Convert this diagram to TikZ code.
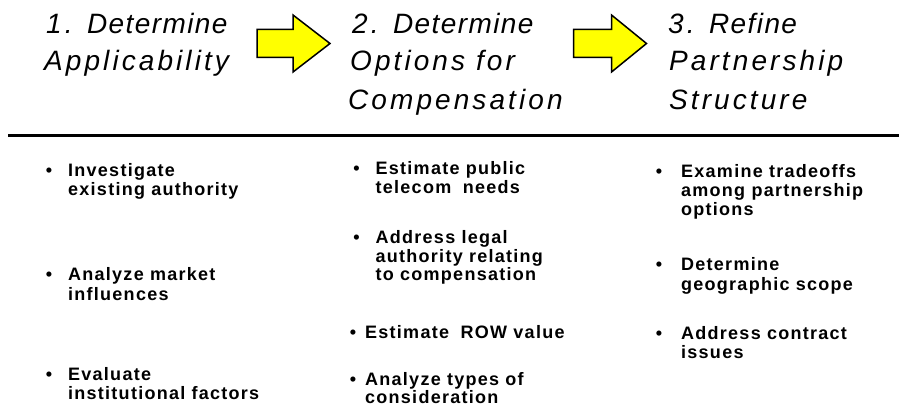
\documentclass[tikz,border=0pt]{standalone}
\usepackage{fontspec}
\setmainfont{Liberation Sans}
\newfontfamily\hdfont[LetterSpace=11]{Liberation Sans}
\newfontfamily\bdfont[LetterSpace=7]{Liberation Sans}
\newcommand\tightls[1]{{\addfontfeature{LetterSpace=5}#1}}
\definecolor{arrowyellow}{HTML}{FFFF00}
\tikzset{
  hd/.style={font=\hdfont\itshape\fontsize{28}{38}\selectfont, anchor=base west, inner sep=0pt},
  bt/.style={font=\bdfont\bfseries\fontsize{18}{19}\selectfont, anchor=base west, inner sep=0pt},
  bu/.style={font=\bfseries\fontsize{18}{19}\selectfont, anchor=base, inner sep=0pt},
  blockarrow/.style={draw=black, line width=1.5pt, fill=arrowyellow, line join=miter},
  rule/.style={draw=black, line width=3pt}
}
\begin{document}
\begin{tikzpicture}[x=1pt, y=-1pt]
\useasboundingbox (0,0) rectangle (899,409);
% headings
\node[hd] (h1a) at (46,33.3) {1. \tightls{Determine}};
\node[hd] (h1b) at (44,71) {Applicability};
\node[hd] (h2a) at (352,33.3) {2. \tightls{Determine}};
\node[hd] (h2b) at (350,71) {Options for};
\node[hd] (h2c) at (348,109.5) {Compensation};
\node[hd] (h3a) at (668,33.3) {3. \tightls{Refine}};
\node[hd] (h3b) at (669,71) {Partnership};
\node[hd] (h3c) at (669,109.5) {Structure};
% block arrows
\draw[blockarrow] (257,29.5) -- (293,29.5) -- (293,15) -- (330,43.5) -- (293,72) -- (293,57.5) -- (257,57.5) -- cycle;
\draw[blockarrow] (573.5,29.5) -- (611.5,29.5) -- (611.5,15) -- (646.5,43.5) -- (611.5,72) -- (611.5,57.5) -- (573.5,57.5) -- cycle;
% rule
\coordinate (rl) at (8,135.5);
\coordinate (rr) at (899,135.5);
\draw[rule] (rl) -- (rr);
% column 1
\node[bu] (b11) at (49,176.5) {•};
\node[bt] (t11a) at (68,176.5) {Investigate};
\node[bt] (t11b) at (68,195.5) {existing authority};
\node[bu] (b12) at (49,280.7) {•};
\node[bt] (t12a) at (68,280.7) {Analyze market};
\node[bt] (t12b) at (68,300) {influences};
\node[bu] (b13) at (49,380) {•};
\node[bt] (t13a) at (68,380) {Evaluate};
\node[bt] (t13b) at (68,399) {institutional factors};
% column 2
\node[bu] (b21) at (356.5,174) {•};
\node[bt] (t21a) at (375.5,174) {Estimate public};
\node[bt] (t21b) at (375.5,193) {telecom\hspace{0.3em} needs};
\node[bu] (b22) at (356.5,243) {•};
\node[bt] (t22a) at (375.5,243) {Address legal};
\node[bt] (t22b) at (375.5,262) {authority relating};
\node[bt] (t22c) at (375.5,280.5) {to compensation};
\node[bu] (b23) at (353,338) {•};
\node[bt] (t23a) at (365,338) {Estimate\hspace{0.3em} ROW value};
\node[bu] (b24) at (353,385) {•};
\node[bt] (t24a) at (365,385) {Analyze types of};
\node[bt] (t24b) at (365,403) {consideration};
% column 3
\node[bu] (b31) at (659,177.7) {•};
\node[bt] (t31a) at (681,177.7) {Examine tradeoffs};
\node[bt] (t31b) at (681,196.7) {among partnership};
\node[bt] (t31c) at (681,215.5) {options};
\node[bu] (b32) at (659,270.7) {•};
\node[bt] (t32a) at (681,270.7) {Determine};
\node[bt] (t32b) at (681,290) {geographic scope};
\node[bu] (b33) at (659,339.3) {•};
\node[bt] (t33a) at (681,339.3) {Address contract};
\node[bt] (t33b) at (681,358.3) {issues};
\end{tikzpicture}
\end{document}
